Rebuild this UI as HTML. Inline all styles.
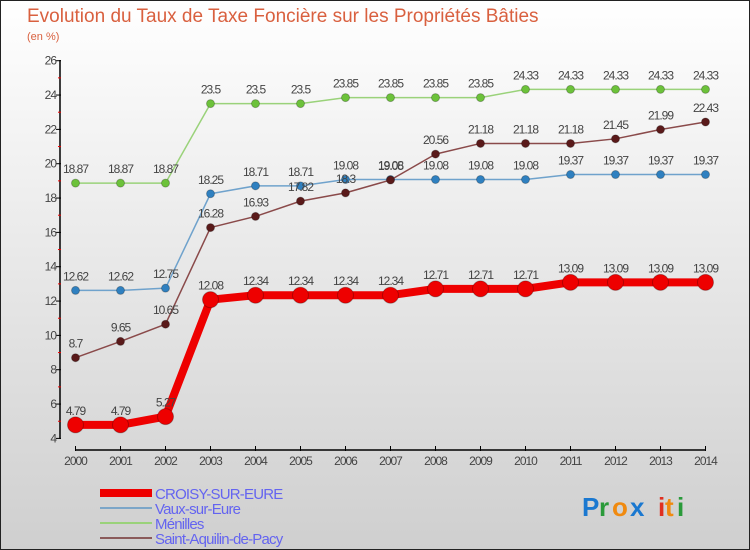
<!DOCTYPE html>
<html><head><meta charset="utf-8"><style>
body{margin:0}
svg{display:block;font-family:"Liberation Sans",sans-serif}
</style></head><body>
<svg width="750" height="550" viewBox="0 0 750 550">
<defs><linearGradient id="bg" x1="0" y1="0" x2="0" y2="1"><stop offset="0" stop-color="#ffffff"/><stop offset="1" stop-color="#cfcfcf"/></linearGradient></defs>
<rect x="0.5" y="0.5" width="749" height="549" fill="url(#bg)" stroke="#222"/>
<text x="27" y="22" font-size="19" fill="#d9603f">Evolution du Taux de Taxe Foncière sur les Propriétés Bâties</text>
<text x="27" y="40" font-size="11" fill="#d9603f">(en %)</text>
<g id="axes"></g>
<g id="series"></g>
<g id="legend">
<line x1="100" y1="493" x2="152" y2="493" stroke="#ee0000" stroke-width="8"/>
<text x="155" y="499" font-size="15" fill="#6464f0" letter-spacing="-0.8">CROISY-SUR-EURE</text>
<line x1="100" y1="508" x2="152" y2="508" stroke="#7ca6c8" stroke-width="2"/>
<text x="155" y="514" font-size="15" fill="#6464f0" letter-spacing="-0.8">Vaux-sur-Eure</text>
<line x1="100" y1="523" x2="152" y2="523" stroke="#9ad27a" stroke-width="2"/>
<text x="155" y="529" font-size="15" fill="#6464f0" letter-spacing="-0.8">Ménilles</text>
<line x1="100" y1="538" x2="152" y2="538" stroke="#8a5a5a" stroke-width="2"/>
<text x="155" y="544" font-size="15" fill="#6464f0" letter-spacing="-0.8">Saint-Aquilin-de-Pacy</text>
</g>
<g font-size="26" font-weight="bold">
<text x="582" y="516" fill="#1a78d0">P</text><text x="599" y="516" fill="#2a9a3a">r</text><text x="612" y="516" fill="#f08a10">o</text><text x="630" y="516" fill="#1a78d0">x</text><text x="658" y="516" fill="#e03020">i</text><text x="665" y="516" fill="#f08a10">t</text><text x="677" y="516" fill="#2a9a3a">i</text>
</g>
</svg>
<script>
const years=[2000,2001,2002,2003,2004,2005,2006,2007,2008,2009,2010,2011,2012,2013,2014];
const yTicks=[4,6,8,10,12,14,16,18,20,22,24,26];
const croisy=[4.79,4.79,5.27,12.08,12.34,12.34,12.34,12.34,12.71,12.71,12.71,13.09,13.09,13.09,13.09];
const vaux=[12.62,12.62,12.75,18.25,18.71,18.71,19.08,19.08,19.08,19.08,19.08,19.37,19.37,19.37,19.37];
const menilles=[18.87,18.87,18.87,23.5,23.5,23.5,23.85,23.85,23.85,23.85,24.33,24.33,24.33,24.33,24.33];
const aquilin=[8.7,9.65,10.65,16.28,16.93,17.82,18.3,19.05,20.56,21.18,21.18,21.18,21.45,21.99,22.43];
const NS="http://www.w3.org/2000/svg";
const X=i=>75.5+i*45;
const Y=v=>438.4-(v-4)*(438.4-60.7)/22;
function mk(tag,attrs,parent){const e=document.createElementNS(NS,tag);for(const k in attrs)e.setAttribute(k,attrs[k]);parent.appendChild(e);return e;}
const axes=document.getElementById('axes');
const ya=mk('line',{x1:60,y1:60,x2:60,y2:439,stroke:'#000','stroke-width':1.5},axes);


const xa=mk('line',{x1:75,y1:450,x2:706,y2:450,stroke:'#000','stroke-width':1.5},axes);


yTicks.forEach((t,i)=>{
 const y=Y(t);
 mk('line',{x1:56,y1:y,x2:61,y2:y,stroke:'#000'},axes);
 if(i<yTicks.length-1)mk('line',{x1:58,y1:Y(t+1),x2:61,y2:Y(t+1),stroke:'#e00'},axes);
 const tx=mk('text',{x:56,y:y+4,'font-size':12,fill:'#444','text-anchor':'end','letter-spacing':'-1'},axes);
 tx.textContent=t;
 
 
});
years.forEach((yr,i)=>{
 mk('line',{x1:X(i),y1:446,x2:X(i),y2:451,stroke:'#000'},axes);
 const tx=mk('text',{x:X(i),y:465,'font-size':12,fill:'#444','text-anchor':'middle','letter-spacing':'-1'},axes);
 tx.textContent=yr;
 
 
});
const sg=document.getElementById('series');
function draw(vals,color,dot,w,r,name){
 const g=mk('g',{},sg);
 
 
 const pl=mk('polyline',{points:vals.map((v,i)=>X(i)+','+Y(v)).join(' '),fill:'none',stroke:color,'stroke-width':w,'stroke-linejoin':'round'},g);
 
 
 vals.forEach((v,i)=>{
  const c=mk('circle',{cx:X(i),cy:Y(v),r:r,fill:dot,stroke:'rgba(0,0,0,0.25)','stroke-width':1},g);
  
  
  const t=mk('text',{x:X(i),y:Y(v)-10,'font-size':12,fill:'#444','text-anchor':'middle','letter-spacing':'-1'},g);
  t.textContent=String(v);
  
  
 });
}
draw(menilles,'#9ad27a','#6cc23a',1.5,4,'menilles');
draw(vaux,'#6fa2cc','#2f80c0',1.5,4,'vaux');
draw(aquilin,'#8a4a4a','#5a1a1a',1.5,4,'saint-aquilin');
draw(croisy,'#ee0000','#ee0000',8,8,'croisy');
</script>
</body></html>
